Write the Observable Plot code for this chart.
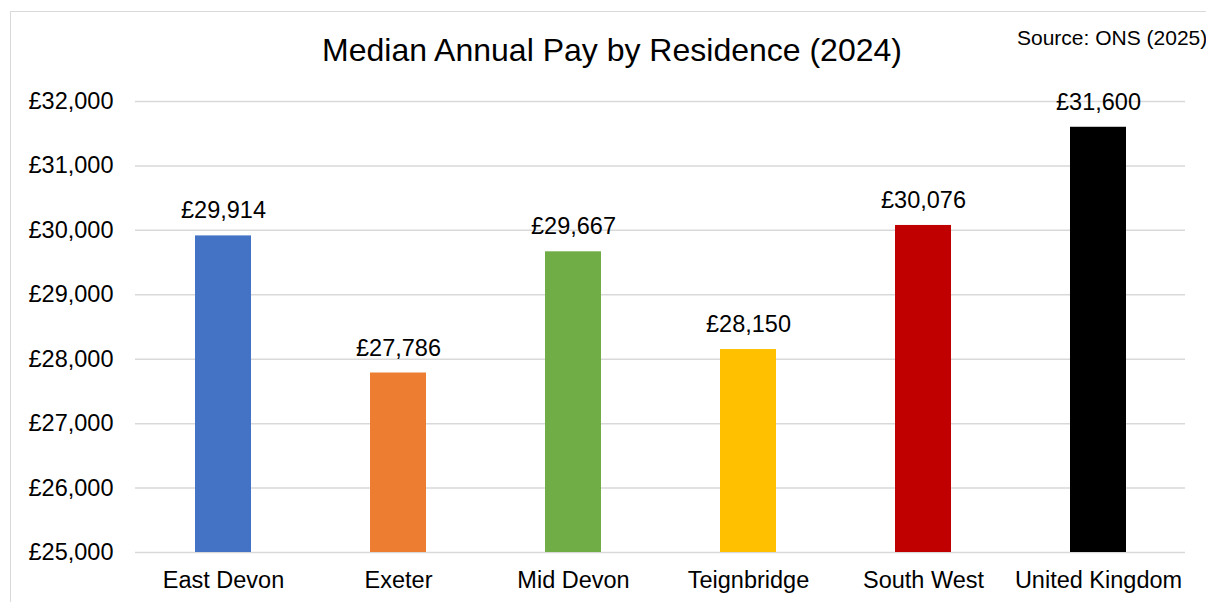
<!DOCTYPE html>
<html><head><meta charset="utf-8">
<script src="https://cdn.jsdelivr.net/npm/d3@7"></script>
<script src="https://cdn.jsdelivr.net/npm/@observablehq/plot@0.6"></script>
<style>
html,body{margin:0;padding:0;background:#fff;overflow:hidden;}
#wrap{position:relative;width:1206px;height:602px;font-family:"Liberation Sans",Arial,sans-serif;}
#frame{position:absolute;left:10px;top:11px;width:1210px;height:620px;border:1px solid #d9d9d9;box-sizing:border-box;}
#title{position:absolute;left:0;width:1224px;top:32px;text-align:center;font-size:32px;color:#000;}
#source{position:absolute;left:1017px;top:26px;font-size:21px;color:#000;white-space:nowrap;}
#chart{position:absolute;left:0;top:0;}
</style></head>
<body><div id="wrap"><div id="frame"></div><div id="chart"></div><div id="title">Median Annual Pay by Residence (2024)</div><div id="source">Source: ONS (2025)</div></div>
<script>
const categories = ["East Devon","Exeter","Mid Devon","Teignbridge","South West","United Kingdom"];
const values = [29914, 27786, 29667, 28150, 30076, 31600];
const colors = ["#4472c4","#ed7d31","#70ad47","#ffc000","#c00000","#000000"];
const yTicks = [25000,26000,27000,28000,29000,30000,31000,32000];

const data = categories.map((c,i)=>({category:c, value:values[i], color:colors[i]}));
const fmt = v => "£" + d3.format(",")(v);

const plot = Plot.plot({
  width: 1206, height: 602,
  marginTop: 101, marginBottom: 50, marginLeft: 135, marginRight: 21,
  style: {fontFamily: '"Liberation Sans", Arial, sans-serif', fontSize: "23.5px", color: "#000", background: "transparent", overflow: "visible"},
  x: {domain: categories, paddingInner: 0.68, paddingOuter: 0.34, label: null},
  y: {domain: [25000, 32000], label: null},
  marks: [
    Plot.gridY(yTicks, {stroke: "#d9d9d9", strokeOpacity: 1, strokeWidth: 1.5}),
    Plot.barY(data, {x: "category", y1: 25000, y2: "value", fill: "color"}),
    Plot.text(data, {x: "category", y: "value", text: d => fmt(d.value), dy: -25, fontSize: 23.5, fill: "#000"}),
    Plot.axisY(yTicks, {tickSize: 0, tickPadding: 22, tickFormat: fmt, fontSize: 23.5, label: null}),
    Plot.axisX({tickSize: 0, tickPadding: 19, fontSize: 23.5, label: null})
  ]
});
document.getElementById("chart").appendChild(plot);
</script></body></html>
